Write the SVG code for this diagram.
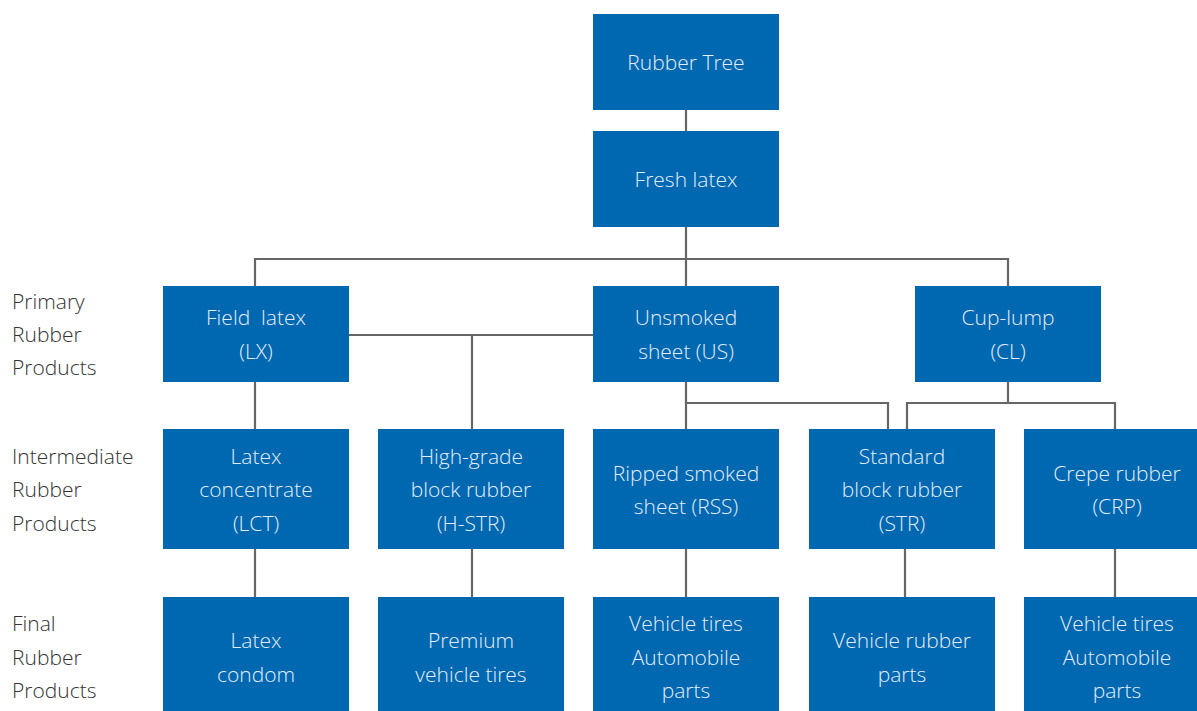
<svg xmlns="http://www.w3.org/2000/svg" width="1197" height="711" viewBox="0 0 1197 711">
<style>
.box{fill:#0067b1}
.t{font-family:"Open Sans","Liberation Sans",sans-serif;font-weight:300;font-size:21px;fill:#e3eef8;text-anchor:middle}
.l{font-family:"Open Sans","Liberation Sans",sans-serif;font-weight:300;font-size:21px;fill:#333}
.c{stroke:#666;stroke-width:2.2;fill:none}
</style>
<rect width="1197" height="711" fill="#fff"/>
<g id="connectors" class="c">
<path d="M686 110V131"/>
<path d="M686 227V286M255 286V259H1008V286"/>
<path d="M349 335H593M472 335V429"/>
<path d="M255 382V429"/>
<path d="M686 382V429M686 403H888V429"/>
<path d="M1008 382V403M907 429V403H1115V429"/>
<path d="M255 549V597M472 549V597M686 549V597M905 549V597M1115 549V597"/>
</g>
<g id="labels">
<text class="l" x="12" y="309">Primary</text>
<text class="l" x="12" y="342">Rubber</text>
<text class="l" x="12" y="375">Products</text>
<text class="l" x="12" y="464">Intermediate</text>
<text class="l" x="12" y="497">Rubber</text>
<text class="l" x="12" y="531">Products</text>
<text class="l" x="12" y="631">Final</text>
<text class="l" x="12" y="665">Rubber</text>
<text class="l" x="12" y="698">Products</text>
</g>
<g id="rubber-tree"><rect class="box" x="593" y="14" width="186" height="96"/><text class="t" x="686" y="70">Rubber Tree</text></g>
<g id="fresh-latex"><rect class="box" x="593" y="131" width="186" height="96"/><text class="t" x="686" y="187">Fresh latex</text></g>
<g id="field-latex"><rect class="box" x="163" y="286" width="186" height="96"/><text class="t" x="256" y="325" xml:space="preserve">Field  latex</text><text class="t" x="256" y="359">(LX)</text></g>
<g id="unsmoked"><rect class="box" x="593" y="286" width="186" height="96"/><text class="t" x="686" y="325">Unsmoked</text><text class="t" x="686" y="359">sheet (US)</text></g>
<g id="cup-lump"><rect class="box" x="915" y="286" width="186" height="96"/><text class="t" x="1008" y="325">Cup-lump</text><text class="t" x="1008" y="359">(CL)</text></g>
<g id="lct"><rect class="box" x="163" y="429" width="186" height="120"/><text class="t" x="256" y="464">Latex</text><text class="t" x="256" y="497">concentrate</text><text class="t" x="256" y="531">(LCT)</text></g>
<g id="hstr"><rect class="box" x="378" y="429" width="186" height="120"/><text class="t" x="471" y="464">High-grade</text><text class="t" x="471" y="497">block rubber</text><text class="t" x="471" y="531">(H-STR)</text></g>
<g id="rss"><rect class="box" x="593" y="429" width="186" height="120"/><text class="t" x="686" y="481">Ripped smoked</text><text class="t" x="686" y="514">sheet (RSS)</text></g>
<g id="str"><rect class="box" x="809" y="429" width="186" height="120"/><text class="t" x="902" y="464">Standard</text><text class="t" x="902" y="497">block rubber</text><text class="t" x="902" y="531">(STR)</text></g>
<g id="crp"><rect class="box" x="1024" y="429" width="186" height="120"/><text class="t" x="1117" y="481">Crepe rubber</text><text class="t" x="1117" y="514">(CRP)</text></g>
<g id="condom"><rect class="box" x="163" y="597" width="186" height="114"/><text class="t" x="256" y="648">Latex</text><text class="t" x="256" y="682">condom</text></g>
<g id="premium"><rect class="box" x="378" y="597" width="186" height="114"/><text class="t" x="471" y="648">Premium</text><text class="t" x="471" y="682">vehicle tires</text></g>
<g id="tires1"><rect class="box" x="593" y="597" width="186" height="114"/><text class="t" x="686" y="631">Vehicle tires</text><text class="t" x="686" y="665">Automobile</text><text class="t" x="686" y="698">parts</text></g>
<g id="vrp"><rect class="box" x="809" y="597" width="186" height="114"/><text class="t" x="902" y="648">Vehicle rubber</text><text class="t" x="902" y="682">parts</text></g>
<g id="tires2"><rect class="box" x="1024" y="597" width="186" height="114"/><text class="t" x="1117" y="631">Vehicle tires</text><text class="t" x="1117" y="665">Automobile</text><text class="t" x="1117" y="698">parts</text></g>
</svg>
